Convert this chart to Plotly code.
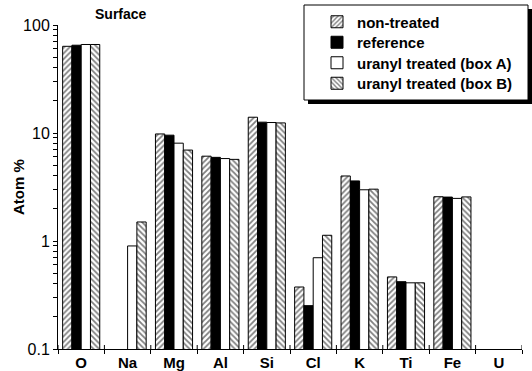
import plotly.graph_objects as go

# Surface composition (atom %) by element for each sample
elements = ["O", "Na", "Mg", "Al", "Si", "Cl", "K", "Ti", "Fe", "U"]
non_treated = [63.5, None, 9.8, 6.1, 14.0, 0.375, 4.0, 0.465, 2.57, None]
reference = [65.0, None, 9.55, 5.95, 12.6, 0.252, 3.6, 0.42, 2.55, None]
uranyl_box_a = [66.0, 0.90, 8.05, 5.8, 12.5, 0.70, 2.98, 0.41, 2.48, None]
uranyl_box_b = [66.0, 1.50, 6.95, 5.7, 12.4, 1.13, 3.02, 0.41, 2.56, None]

decades = [0.1, 1, 10, 100]
decade_labels = ["0.1", "1", "10", "100"]

# every log tick (1..9 in each decade); only the decades are labelled
y_tick_vals, y_tick_text = [], []
for d, lab in zip(decades, decade_labels):
    y_tick_vals.append(d)
    y_tick_text.append(lab)
    if d < decades[-1]:
        for m in range(2, 10):
            y_tick_vals.append(round(m * d, 6))
            y_tick_text.append("")

FONT = "Arial, Liberation Sans, sans-serif"

W, H = 532, 371
L, R, T, B = 58, 10, 25, 22
pw, ph = W - L - R, H - T - B


def px_x(x):
    return (x - L) / pw


def px_y(y):
    return (H - B - y) / ph


fig = go.Figure()

series = [
    ("non-treated", non_treated, "white", dict(shape="/", size=4, solidity=0.45, fgcolor="black", bgcolor="white")),
    ("reference", reference, "black", None),
    ("uranyl treated (box A)", uranyl_box_a, "white", None),
    ("uranyl treated (box B)", uranyl_box_b, "white", dict(shape="\\", size=4, solidity=0.45, fgcolor="black", bgcolor="white")),
]
legend_ids = ["legend", "legend2", "legend3", "legend4"]
legend_rows = [22, 42.5, 63, 83.5]

for (name, vals, color, pattern), lid in zip(series, legend_ids):
    marker = dict(color=color, line=dict(color="black", width=1))
    if pattern:
        marker["pattern"] = pattern
    fig.add_trace(go.Bar(x=elements, y=vals, name=name, marker=marker, legend=lid))

legend_style = dict(
    xanchor="left", yanchor="middle", bgcolor="rgba(0,0,0,0)", borderwidth=0,
    font=dict(family=FONT, size=15, color="black", weight="bold"),
)
legends = {
    lid: dict(x=px_x(317), y=px_y(row), **legend_style)
    for lid, row in zip(legend_ids, legend_rows)
}

# category boundaries: the x ticks cross the axis line, so add the inner half
bounds = [i - 0.5 for i in range(len(elements) + 1)]
inner_ticks = [
    dict(type="line", xref="x", yref="paper", x0=b, x1=b, y0=0, y1=4 / ph,
         line=dict(color="black", width=1))
    for b in bounds
]

fig.update_layout(
    width=W, height=H,
    margin=dict(l=L, r=R, t=T, b=B, autoexpand=False),
    paper_bgcolor="white", plot_bgcolor="white",
    barmode="group", bargap=0.2, bargroupgap=0,
    font=dict(family=FONT, color="black", size=15),
    xaxis=dict(
        type="category", categoryorder="array", categoryarray=elements,
        range=[-0.5, len(elements) - 0.5], automargin=False,
        showline=True, linecolor="black", linewidth=1,
        ticks="outside", tickson="boundaries", ticklen=4, tickcolor="black",
        showgrid=False, zeroline=False,
        tickfont=dict(family=FONT, size=15, color="black", weight="bold"),
    ),
    yaxis=dict(
        type="log", range=[-1, 2], automargin=False,
        tickmode="array", tickvals=y_tick_vals, ticktext=y_tick_text,
        showline=True, linecolor="black", linewidth=1,
        ticks="outside", ticklen=4, tickcolor="black",
        showgrid=False, zeroline=False,
        tickfont=dict(family=FONT, size=16, color="black"),
    ),
    showlegend=True,
    annotations=[
        dict(text="<b>Surface</b>", x=px_x(121), y=px_y(14), xref="paper", yref="paper",
             xanchor="center", yanchor="middle", showarrow=False,
             font=dict(family=FONT, size=14, color="black")),
        dict(text="<b>Atom %</b>", x=px_x(18), y=0.5, xref="paper", yref="paper",
             xanchor="center", yanchor="middle", textangle=-90, showarrow=False,
             font=dict(family=FONT, size=15, color="black")),
    ],
    shapes=inner_ticks + [
        # legend drop shadow
        dict(type="rect", xref="paper", yref="paper",
             x0=px_x(308), x1=px_x(532), y0=px_y(104), y1=px_y(9),
             fillcolor="black", line=dict(width=0), layer="above"),
        # legend frame
        dict(type="rect", xref="paper", yref="paper",
             x0=px_x(304), x1=px_x(528), y0=px_y(100), y1=px_y(5),
             fillcolor="white", line=dict(color="black", width=1), layer="above"),
    ],
    **legends,
)

fig.write_html("out.html")
